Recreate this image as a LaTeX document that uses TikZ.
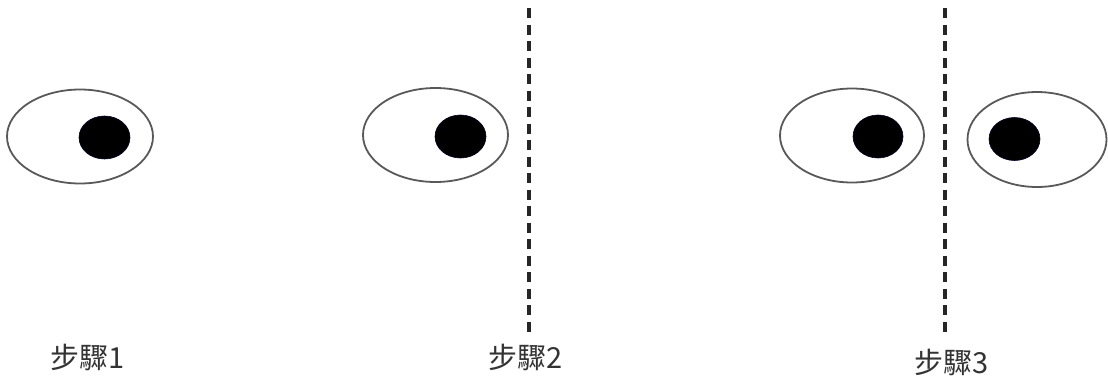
\documentclass[tikz,border=0pt]{standalone}
\usepackage{fontspec}
\newfontfamily\cjk{Noto Sans CJK TC}
\begin{document}
\begin{tikzpicture}[x=1pt,y=-1pt,
  eye/.style={draw=black!65,line width=1.8pt,fill=white},
  pupil/.style={fill=black,draw=black!85!blue,line width=0.6pt},
  divider/.style={line width=3.2pt,draw=black!85,dash pattern=on 10pt off 6.5pt},
  steplabel/.style={font=\cjk\fontsize{29}{32}\selectfont,text=black!80,inner sep=0pt}]
\useasboundingbox (0,0) rectangle (1108,376);
% eyes
\draw[eye] (80,136.5) ellipse [x radius=73,y radius=47];
\fill[pupil] (104.5,137.5) ellipse [x radius=25.5,y radius=21.5];
\draw[eye] (435.5,135) ellipse [x radius=72.5,y radius=47];
\fill[pupil] (460.5,136.5) ellipse [x radius=25.5,y radius=21.5];
\draw[eye] (852,135.5) ellipse [x radius=72,y radius=47];
\fill[pupil] (878,136.5) ellipse [x radius=25,y radius=21.5];
\draw[eye] (1037,139.5) ellipse [x radius=69.5,y radius=47.5];
\fill[pupil] (1014.5,139) ellipse [x radius=25.5,y radius=21.5];
% dividers
\coordinate (d2a) at (529,8);
\coordinate (d2b) at (529,333);
\coordinate (d3a) at (945,8);
\coordinate (d3b) at (945,334);
\draw[divider] (d2a) -- (d2b);
\draw[divider] (d3a) -- (d3b);
% labels
\node[steplabel] (s1) at (87.5,357) {步驟1};
\node[steplabel] (s2) at (526,357) {步驟2};
\node[steplabel] (s3) at (951.5,362) {步驟3};
\end{tikzpicture}
\end{document}
